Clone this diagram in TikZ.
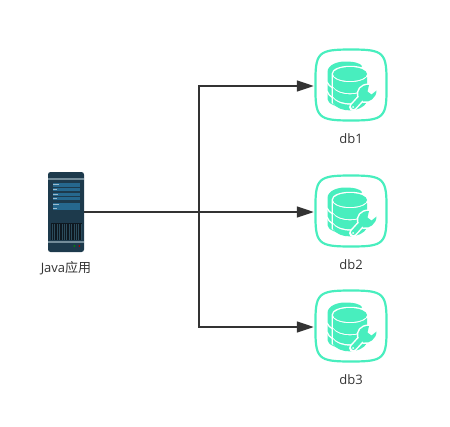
\documentclass[tikz,border=0pt]{standalone}
\usepackage{fontspec}
\setmainfont{Open Sans}
\newfontfamily\cjk{Noto Sans CJK SC}
\usepackage{xcolor}
\usetikzlibrary{arrows.meta,positioning}
\definecolor{mint}{RGB}{72,238,190}
\definecolor{ink}{RGB}{51,51,51}
\definecolor{rack}{RGB}{29,58,76}
\definecolor{slot}{RGB}{38,104,142}
\definecolor{band}{RGB}{115,140,153}
\definecolor{vent}{RGB}{14,24,32}
\definecolor{ventline}{RGB}{44,76,92}
\tikzstyle{arrow} = [ink,line width=1.5pt,-{Stealth[length=17pt,width=11pt,inset=0pt]}]
\tikzstyle{wire} = [ink,line width=1.5pt]
\tikzstyle{label} = [font=\fontsize{13}{15}\selectfont,text=ink,inner sep=0pt]
\tikzstyle{dbbox} = [minimum width=72pt,minimum height=72pt,inner sep=0pt]
\tikzset{
dbicon/.pic={
% rounded frame
\draw [mint,fill=white,line width=2.2pt] (-35.5,0) .. controls (-36,-33) and (-33,-35.5) .. (0,-35.5)
  .. controls (33,-35.5) and (36,-33) .. (35.5,0) .. controls (36,33) and (33,35.5) .. (0,35.5)
  .. controls (-33,35.5) and (-36,33) .. (-35.5,0) -- cycle;
% back stack
\fill [mint] (-23.5,-13) .. controls (-23.5,-20) and (-14,-23.5) .. (-6,-23.5) .. controls (3,-23.5) and (9,-22) .. (11,-19)
  -- (0,0) -- (-6,23) .. controls (-14,22) and (-23.5,19) .. (-23.5,14) -- cycle;
\draw [white,line width=1.3pt] (-24,-3) .. controls (-22,2) and (-16,5) .. (-8,6);
\draw [white,line width=1.3pt] (-24,6) .. controls (-22,12) and (-16,15) .. (-8,16);
% front stack
\fill [white] (-19.5,-11) -- (-19.5,18) -- (-2,27) -- (18,18) -- (18,-11) .. controls (18,-22) and (-19.5,-22) .. (-19.5,-11) -- cycle;
\fill [mint] (-1,-11) ellipse (17 and 7);
\fill [mint] (-18,-8) .. controls (-12,-1) and (10,-1) .. (16,-8) -- (16,1.5) .. controls (10,10.5) and (-12,10.5) .. (-18,1.5) -- cycle;
\fill [mint] (-18,3) .. controls (-12,11.5) and (10,11.5) .. (16,3) -- (16,11.5) .. controls (10,20.5) and (-12,20.5) .. (-18,11.5) -- cycle;
\fill [mint] (-18,13) .. controls (-12,22) and (10,22) .. (16,13) -- (16,17) .. controls (10,28) and (-12,28) .. (-18,18) -- cycle;
% wrench
\draw [white,line width=8pt,line cap=round] (2,22) -- (12,11);
\filldraw [white,line width=3pt,line join=round] (18,0) .. controls (10,-0.5) and (6,6) .. (7.5,11) -- (12.5,16.5)
  .. controls (18,18) and (25.5,13) .. (25.5,5.5) -- (20.5,9.5) -- (16.5,6.5) -- cycle;
\fill [mint] (18,0) .. controls (10,-0.5) and (6,6) .. (7.5,11) -- (12.5,16.5)
  .. controls (18,18) and (25.5,13) .. (25.5,5.5) -- (20.5,9.5) -- (16.5,6.5) -- cycle;
\draw [mint,line width=5pt,line cap=round] (2.5,21.5) -- (12,11);
\fill [white] (2.2,22) circle (1);
}}
\tikzset{
serverpic/.pic={
\fill [rack,rounded corners=2.5pt] (-18,-40) rectangle (18,40);
\fill [band] (-18,-34) rectangle (18,-32.5);
\foreach \ya/\yb in {-28.7/-25,-23.7/-21.3,-19.3/-16,-14.7/-12,-8.7/-5.3,-4.7/-2} \fill [slot] (-13.5,\ya) rectangle (13.5,\yb);
\foreach \ya/\xb in {-27.7/-7.5,-23.2/-9,-18.2/-8.5,-13.9/-9,-7.7/-7.5,-3.9/-9} \fill [white!55!slot] (-12.7,\ya) rectangle (\xb,\ya+1.1);
\fill [vent] (-15.3,11.3) rectangle (15.7,28);
\foreach \x in {-14,-11.6,...,15} \fill [ventline] (\x,12) rectangle (\x+0.7,28);
\fill [band] (-18,29) rectangle (18,31);
\fill [green!55!black] (8.3,34) circle (1);
\fill [red!65!black] (13.3,34) circle (1);
}}
\begin{document}
\begin{tikzpicture}[x=1pt,y=-1pt]
\useasboundingbox (0,0) rectangle (450,426);

\node [minimum width=36pt,minimum height=80pt,inner sep=0pt] (app) at (66,212) {};
\pic at (app.center) {serverpic};
\node [label] (applabel) at (66,268.5) {Java{\cjk 应用}};

\node [dbbox] (db1) at (351,86) {};
\node [dbbox] (db2) at (351,212) {};
\node [dbbox] (db3) at (351,327) {};
\pic at ([yshift=1pt]db1.center) {dbicon};
\pic at ([yshift=1pt]db2.center) {dbicon};
\pic at ([yshift=1pt]db3.center) {dbicon};
\node [label] (db1label) at (351,138.5) {db1};
\node [label] (db2label) at (351,264.5) {db2};
\node [label] (db3label) at (351,379.5) {db3};

\coordinate (split) at (199,212);
\draw [wire] (app.east) -- (split);
\draw [arrow] (split) |- ([xshift=-1pt]db1.west);
\draw [arrow] (split) -- ([xshift=-1pt]db2.west);
\draw [arrow] (split) |- ([xshift=-1pt]db3.west);
\end{tikzpicture}
\end{document}
